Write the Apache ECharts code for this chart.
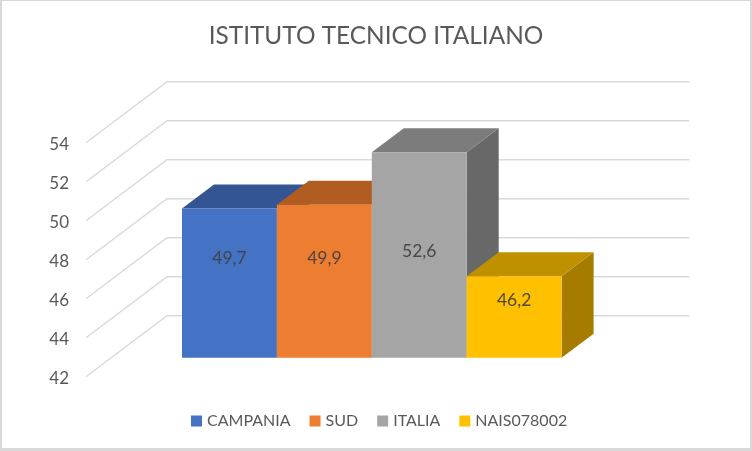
<!DOCTYPE html>
<html>
<head>
<meta charset="utf-8">
<style>html,body{margin:0;padding:0;background:#fff}#c{width:752px;height:451px}</style>
<script src="https://cdn.jsdelivr.net/npm/echarts@6/dist/echarts.min.js"></script>
</head>
<body>
<div id="c"></div>
<script>
var titleText = 'ISTITUTO TECNICO ITALIANO';
var categories = ['CAMPANIA', 'SUD', 'ITALIA', 'NAIS078002'];
var values = [49.7, 49.9, 52.6, 46.2];
var valueLabels = ['49,7', '49,9', '52,6', '46,2'];
var ticks = [42, 44, 46, 48, 50, 52, 54];
var frontColors = ['#4472C4', '#ED7D31', '#A5A5A5', '#FFC000'];
var topColors = ['#335593', '#B15D22', '#7C7C7C', '#BF9000'];
var sideColors = ['#2C4A7E', '#9A5220', '#686868', '#A67C00'];
var labelFractions = [0.333, 0.35, 0.484, 0.295];

var FONT = 'Lato, "Open Sans", sans-serif';
var WALL_DX = 81, WALL_DY = -61, BAR_DX = 32, BAR_DY = -24;

function renderWall(params, api) {
  var v = api.value(0);
  var cs = params.coordSys;
  var y = api.coord([0, v])[1];
  return {
    type: 'polyline',
    shape: { points: [[cs.x, y], [cs.x + WALL_DX, y + WALL_DY], [cs.x + cs.width, y + WALL_DY]] },
    style: { stroke: '#D9D9D9', lineWidth: 1.4, fill: null }
  };
}

function barRenderer(i) {
  return function (params, api) {
    var p = api.coord([api.value(0), api.value(1)]);
    var base = api.coord([api.value(0), ticks[0]]);
    var w = api.size([1, 0])[0];
    var l = p[0] - w / 2, r = p[0] + w / 2, t = p[1], b = base[1];
    return {
      type: 'group',
      children: [
        { type: 'polygon', shape: { points: [[r, t], [r + BAR_DX, t + BAR_DY], [r + BAR_DX, b + BAR_DY], [r, b]] }, style: { fill: sideColors[i] } },
        { type: 'polygon', shape: { points: [[l, t], [l + BAR_DX, t + BAR_DY], [r + BAR_DX, t + BAR_DY], [r, t]] }, style: { fill: topColors[i] } },
        { type: 'rect', shape: { x: l, y: t, width: r - l, height: b - t }, style: { fill: frontColors[i] } },
        { type: 'text', style: {
            x: p[0], y: t + (b - t) * labelFractions[i], text: valueLabels[i],
            align: 'center', verticalAlign: 'middle',
            font: '17.5px ' + FONT, fill: 'rgba(64,64,64,0.92)'
        } }
      ]
    };
  };
}

var series = [{
  type: 'custom', name: 'walls', coordinateSystem: 'cartesian2d', xAxisIndex: 0, yAxisIndex: 0,
  silent: true, z: 1,
  data: ticks.map(function (t) { return [t]; }),
  encode: { y: 0 },
  renderItem: renderWall
}];
categories.forEach(function (c, i) {
  series.push({
    type: 'custom', name: c, coordinateSystem: 'cartesian2d', xAxisIndex: 1, yAxisIndex: 1,
    silent: true, z: 2 + i,
    itemStyle: { color: frontColors[i] },
    data: [[c, values[i]]],
    encode: { x: 0, y: 1 },
    renderItem: barRenderer(i)
  });
});

var chart = echarts.init(document.getElementById('c'), null, { renderer: 'canvas' });
chart.setOption({
  animation: false,
  backgroundColor: '#fff',
  title: {
    text: titleText, left: 'center', top: 19,
    textStyle: { fontFamily: FONT, fontSize: 24.4, fontWeight: 'normal', color: '#595959' }
  },
  legend: {
    data: categories, left: 186, top: 408,
    icon: 'rect', itemWidth: 11, itemHeight: 11, itemGap: 19,
    selectedMode: false,
    textStyle: { fontFamily: FONT, fontSize: 16, color: '#595959' }
  },
  grid: [
    { left: 86, top: 142.7, width: 603.3, height: 234 },
    { left: 182, top: 125.2, width: 379.6, height: 232.5 }
  ],
  xAxis: [
    { type: 'value', gridIndex: 0, show: false, min: 0, max: 1 },
    { type: 'category', gridIndex: 1, show: false, data: categories, boundaryGap: true }
  ],
  yAxis: [
    { type: 'value', gridIndex: 0, min: 42, max: 54, interval: 2,
      axisLine: { show: false }, axisTick: { show: false }, splitLine: { show: false },
      axisLabel: { margin: 17, fontFamily: FONT, fontSize: 17, color: '#595959', verticalAlign: 'top', lineHeight: 4 } },
    { type: 'value', gridIndex: 1, min: 42, max: 54, interval: 2, show: false, splitLine: { show: false } }
  ],
  graphic: [
    { type: 'rect', silent: true, z: 100, shape: { x: 0, y: 0, width: 752, height: 1 }, style: { fill: '#D9D9D9' } },
    { type: 'rect', silent: true, z: 100, shape: { x: 0, y: 0, width: 2, height: 451 }, style: { fill: '#D9D9D9' } },
    { type: 'rect', silent: true, z: 100, shape: { x: 750, y: 0, width: 2, height: 451 }, style: { fill: '#D9D9D9' } },
    { type: 'rect', silent: true, z: 100, shape: { x: 0, y: 448, width: 752, height: 3 }, style: { fill: '#D9D9D9' } }
  ],
  series: series
});
</script>
</body>
</html>
